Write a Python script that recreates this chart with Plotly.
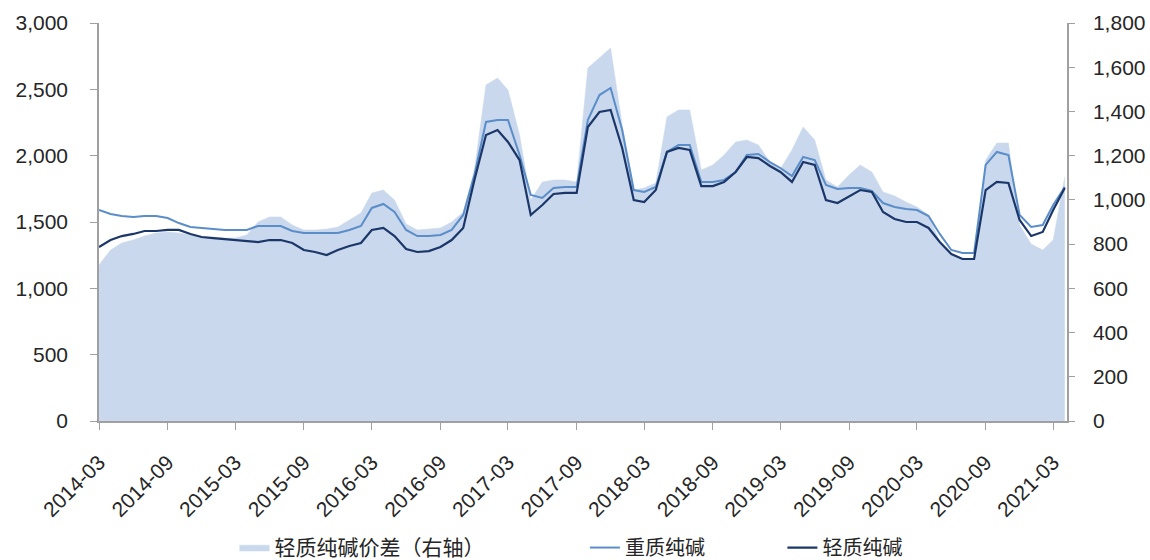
import pandas as pd
import plotly.graph_objects as go

# Monthly observations, 2014-03 .. 2021-04
dates = pd.date_range("2014-03-01", "2021-04-01", freq="MS")

# 重质纯碱 (yuan/t, left axis)
heavy = [1590, 1560, 1545, 1538, 1545, 1545, 1530, 1492, 1462, 1455, 1447, 1440,
         1440, 1440, 1470, 1470, 1470, 1432, 1417, 1417, 1417, 1417, 1440, 1470,
         1606, 1636, 1575, 1440, 1394, 1394, 1402, 1440, 1553, 1854, 2254, 2269,
         2269, 2005, 1704, 1681, 1756, 1764, 1764, 2269, 2457, 2510, 2193, 1741,
         1726, 1764, 2028, 2080, 2080, 1802, 1802, 1817, 1877, 2005, 2013, 1952,
         1907, 1847, 1990, 1967, 1779, 1749, 1756, 1756, 1734, 1643, 1613, 1598,
         1590, 1545, 1410, 1289, 1266, 1266, 1930, 2028, 2005, 1553, 1462, 1477,
         1628, 1764]

# 轻质纯碱 (yuan/t, left axis)
light = [1312, 1364, 1394, 1410, 1432, 1432, 1440, 1440, 1410, 1387, 1379, 1372,
         1364, 1357, 1349, 1364, 1364, 1342, 1289, 1274, 1251, 1289, 1319, 1342,
         1440, 1455, 1394, 1296, 1274, 1281, 1312, 1364, 1455, 1817, 2156, 2193,
         2103, 1967, 1553, 1628, 1711, 1719, 1719, 2216, 2329, 2344, 2058, 1666,
         1651, 1741, 2028, 2058, 2043, 1771, 1771, 1802, 1877, 1990, 1982, 1922,
         1877, 1802, 1952, 1930, 1666, 1643, 1696, 1741, 1726, 1575, 1523, 1500,
         1500, 1455, 1349, 1259, 1221, 1221, 1741, 1802, 1794, 1515, 1394, 1425,
         1590, 1756]

# 轻质纯碱价差 (right axis)
spread = [706, 773, 805, 819, 837, 850, 855, 850, 841, 832, 832, 828,
          828, 841, 900, 923, 923, 886, 864, 864, 868, 877, 909, 941,
          1031, 1045, 999, 891, 864, 868, 873, 900, 945, 1135, 1520, 1551,
          1497, 1293, 999, 1081, 1090, 1090, 1081, 1596, 1642, 1687, 1339, 1045,
          1054, 1076, 1375, 1407, 1407, 1135, 1158, 1203, 1262, 1271, 1248, 1171,
          1140, 1226, 1330, 1271, 1090, 1058, 1113, 1158, 1126, 1036, 1018, 990,
          968, 932, 810, 755, 733, 733, 1180, 1257, 1257, 886, 800, 773,
          819, 1104]

tick_dates = ["2014-03-01", "2014-09-01", "2015-03-01", "2015-09-01", "2016-03-01",
              "2016-09-01", "2017-03-01", "2017-09-01", "2018-03-01", "2018-09-01",
              "2019-03-01", "2019-09-01", "2020-03-01", "2020-09-01", "2021-03-01"]
tick_labels = ["2014-03", "2014-09", "2015-03", "2015-09", "2016-03",
               "2016-09", "2017-03", "2017-09", "2018-03", "2018-09",
               "2019-03", "2019-09", "2020-03", "2020-09", "2021-03"]

AREA = "#C9D8EC"
HEAVY = "#5B8DC9"
LIGHT = "#1B3769"
AXIS = "#A0A0A0"
TXT = "#262626"
TICK_FONT = dict(family="Liberation Sans, Arial, sans-serif", size=21, color=TXT)


def leg_font(size):
    return dict(family="Noto Sans CJK SC, sans-serif", size=size, color=TXT)


fig = go.Figure()

# Spread area sits on the base y-axis (shown on the right) so the price lines,
# living on the overlaying axis, are drawn above it.
fig.add_trace(go.Scatter(
    x=dates, y=spread, name="轻质纯碱价差（右轴）", mode="lines",
    fill="tozeroy", fillcolor=AREA, line=dict(color=AREA, width=0.5),
    yaxis="y", legend="legend"))
fig.add_trace(go.Scatter(
    x=dates, y=heavy, name="重质纯碱", mode="lines",
    line=dict(color=HEAVY, width=2), yaxis="y2", legend="legend2"))
fig.add_trace(go.Scatter(
    x=dates, y=light, name="轻质纯碱", mode="lines",
    line=dict(color=LIGHT, width=2.2), yaxis="y2", legend="legend3"))

leg_common = dict(orientation="h", yanchor="middle", y=-0.318, xanchor="left",
                  bgcolor="rgba(0,0,0,0)", borderwidth=0)

fig.update_layout(
    width=1150, height=560,
    margin=dict(l=99, r=83, t=23, b=139, autoexpand=False),
    paper_bgcolor="white", plot_bgcolor="white",
    showlegend=True,
    legend=dict(x=0.140, font=leg_font(21), **leg_common),
    legend2=dict(x=0.502, font=leg_font(20), **leg_common),
    legend3=dict(x=0.706, font=leg_font(20), **leg_common),
    xaxis=dict(
        type="date", range=["2014-03-01", "2021-04-07"],
        tickvals=tick_dates, ticktext=tick_labels, tickangle=-45,
        ticks="outside", ticklen=7, tickcolor=AXIS, tickwidth=1,
        showline=True, linecolor=AXIS, linewidth=1.5,
        showgrid=False, zeroline=False, tickfont=TICK_FONT,
        ticklabelstandoff=12, automargin=False),
    yaxis=dict(
        side="right", range=[0, 1800], dtick=200, tickformat=",d",
        ticks="outside", ticklen=6, tickcolor=AXIS,
        showline=True, linecolor=AXIS, linewidth=1.5,
        showgrid=False, zeroline=False, tickfont=TICK_FONT,
        ticklabelstandoff=14, automargin=False),
    yaxis2=dict(
        overlaying="y", side="left", range=[0, 3000], dtick=500, tickformat=",d",
        ticks="outside", ticklen=7, tickcolor=AXIS,
        showline=True, linecolor=AXIS, linewidth=1.5,
        showgrid=False, zeroline=False, tickfont=TICK_FONT,
        ticklabelstandoff=18, automargin=False),
)

fig.write_html("out.html")
